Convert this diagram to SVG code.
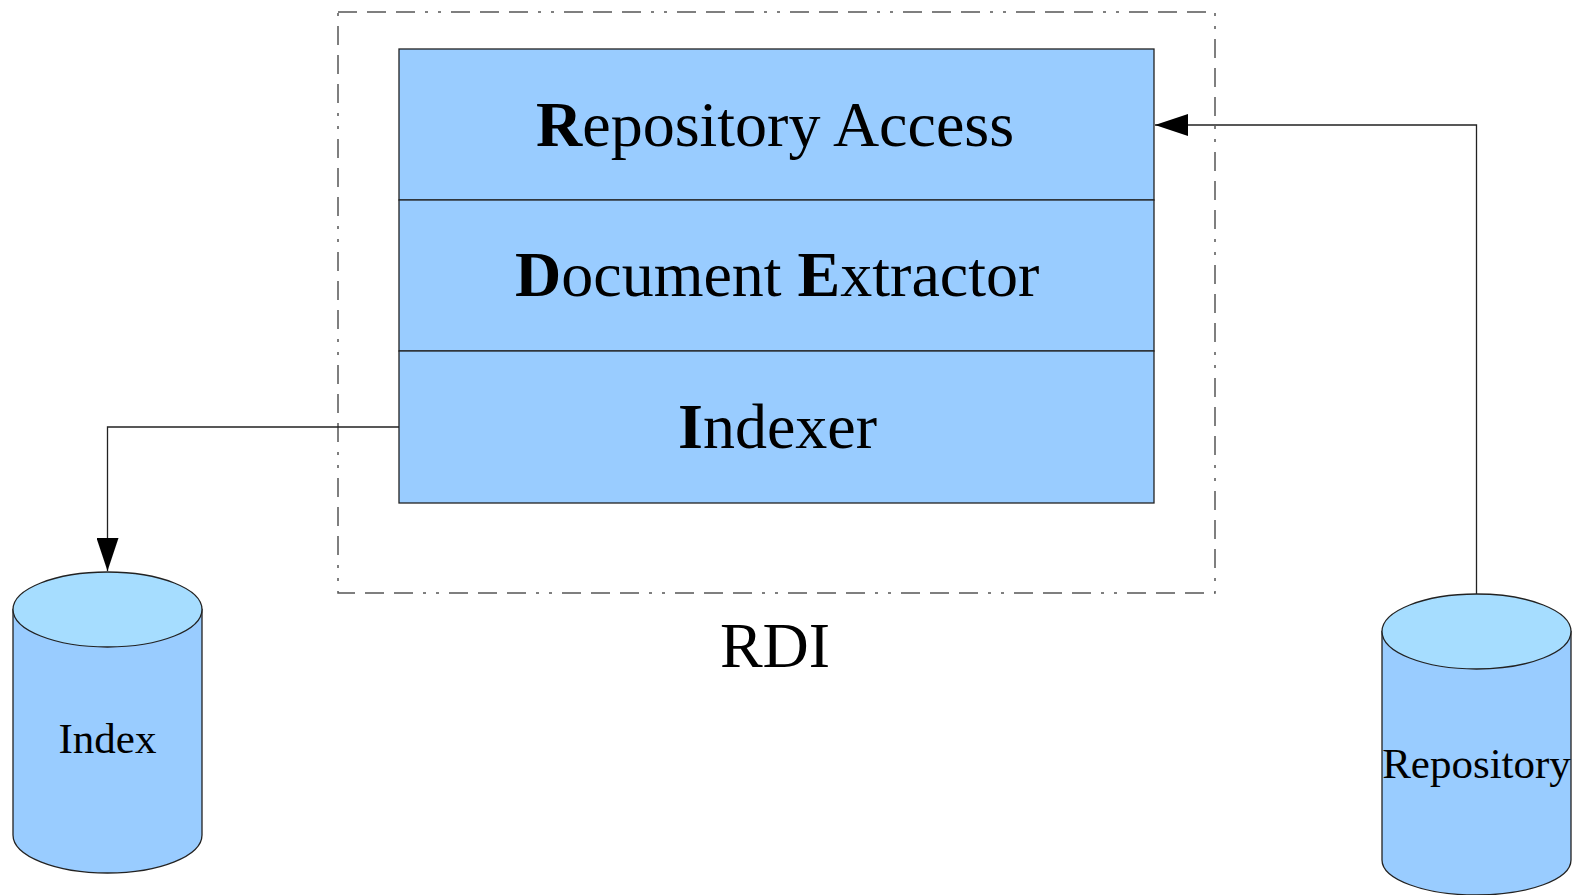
<svg xmlns="http://www.w3.org/2000/svg" width="1580" height="895" viewBox="0 0 1580 895">
<style>
.t{font-family:"Liberation Serif","Times New Roman",serif;fill:#000}
.big{font-size:64px}
.cyl{font-size:43px}
.b{font-weight:bold}
.layer{fill:#99ccff;stroke:#222;stroke-width:1.3}
.body{fill:#99ccff;stroke:#222;stroke-width:1.3}
.top{fill:#a6ddff;stroke:#222;stroke-width:1.3}
.conn{fill:none;stroke:#222;stroke-width:1.3}
.frame{fill:none;stroke:#555;stroke-width:1.5;stroke-dasharray:19 10 19 10 19 10 3 10 3 10}
</style>
<defs>
<marker id="ah" viewBox="0 0 33 22" refX="33" refY="11" markerWidth="33" markerHeight="22" markerUnits="userSpaceOnUse" orient="auto">
<path d="M0,0 L33,11 L0,22 Z" fill="#000"/>
</marker>
</defs>
<rect width="1580" height="895" fill="#fff"/>
<g id="rdi">
<rect class="frame" x="338" y="12" width="877" height="581"/>
<text class="t big" x="775" y="667" text-anchor="middle">RDI</text>
</g>
<g id="repository-access">
<rect class="layer" x="399" y="49" width="755" height="151"/>
<text class="t big" x="536" y="146"><tspan class="b">R</tspan>epository Access</text>
</g>
<g id="document-extractor">
<rect class="layer" x="399" y="200" width="755" height="151"/>
<text class="t big" x="515" y="296"><tspan class="b">D</tspan>ocument <tspan class="b">E</tspan>xtractor</text>
</g>
<g id="indexer">
<rect class="layer" x="399" y="351" width="755" height="152"/>
<text class="t big" x="678" y="448"><tspan class="b">I</tspan>ndexer</text>
</g>
<g id="connectors">
<path class="conn" d="M399,427 H107.5 V571" marker-end="url(#ah)"/>
<path class="conn" d="M1476.5,594 V125 H1155" marker-end="url(#ah)"/>
</g>
<g id="index">
<path class="body" d="M13,609.5 V835 A94.5,38 0 0 0 202,835 V609.5 Z"/>
<ellipse class="top" cx="107.5" cy="609.5" rx="94.5" ry="37.5"/>
<text class="t cyl" x="107.5" y="753" text-anchor="middle">Index</text>
</g>
<g id="repository">
<path class="body" d="M1382,631.5 V860 A94.5,35 0 0 0 1571,860 V631.5 Z"/>
<ellipse class="top" cx="1476.5" cy="631.5" rx="94.5" ry="37.5"/>
<text class="t cyl" x="1476.5" y="778" text-anchor="middle">Repository</text>
</g>
</svg>
